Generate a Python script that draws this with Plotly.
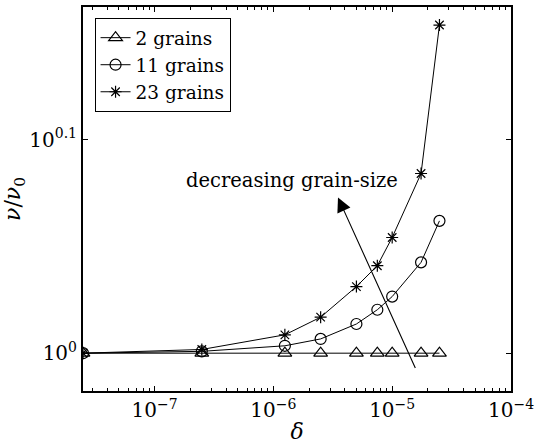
import math
import plotly.graph_objects as go

# ---- data ----
delta = [2.5e-8, 2.5e-7, 1.25e-6, 2.5e-6, 5e-6, 7.5e-6, 1e-5, 1.75e-5, 2.5e-5]
nu_2_grains = [1.0, 1.0, 1.0, 1.0, 1.0, 1.0, 1.0, 1.0, 1.0]
nu_11_grains = [1.0, 1.002, 1.008, 1.0155, 1.032, 1.048, 1.063, 1.103, 1.1535]
nu_23_grains = [1.0, 1.004, 1.020, 1.0396, 1.0745, 1.099, 1.133, 1.214, 1.425]
series_names = ["2 grains", "11 grains", "23 grains"]

x_ticks = [1e-7, 1e-6, 1e-5, 1e-4]
x_ticktext = ["10<sup>\u22127</sup>", "10<sup>\u22126</sup>", "10<sup>\u22125</sup>", "10<sup>\u22124</sup>"]
y_ticks = [1.0, 10 ** 0.1]
y_ticktext = ["10<sup>0</sup>", "10<sup>0.1</sup>"]

FONT = "DejaVu Serif"

fig = go.Figure()
symbols = ["triangle-up-open", "circle-open", "asterisk-open"]
sizes = [12, 11, 10]
for name, ys, sym, sz in zip(series_names, [nu_2_grains, nu_11_grains, nu_23_grains], symbols, sizes):
    fig.add_trace(go.Scatter(
        x=delta, y=ys, name=name, mode="lines+markers",
        line=dict(color="black", width=1),
        marker=dict(symbol=sym, size=sz, color="black", line=dict(color="black", width=1.2)),
    ))

minor_vals = []
for e in range(-8, -4):
    for m in range(2, 10):
        minor_vals.append(m * 10 ** e)

axis_common = dict(
    showline=True, linecolor="black", linewidth=2, mirror="ticks",
    ticks="inside", ticklen=5, tickcolor="black", tickwidth=1,
    showgrid=False, zeroline=False, automargin=False,
    tickfont=dict(family=FONT, size=20, color="black"),
)

fig.update_xaxes(
    type="log", range=[math.log10(2.5e-8), -4],
    tickvals=x_ticks, ticktext=x_ticktext,
    minor=dict(tickvals=minor_vals, ticks="inside", ticklen=3, tickcolor="black", tickwidth=1, showgrid=False),
    title=dict(text="<i>\u03b4</i>", font=dict(family=FONT, size=22, color="black"), standoff=2),
    **axis_common,
)
fig.update_yaxes(
    type="log", range=[math.log10(0.96), math.log10(1.453)],
    tickvals=y_ticks, ticktext=y_ticktext,
    title=dict(text="<i>\u03bd</i>/<i>\u03bd</i><sub>0</sub>", font=dict(family=FONT, size=22, color="black"), standoff=4),
    **axis_common,
)

# arrow
fig.add_annotation(
    x=math.log10(3.5e-6), y=math.log10(1.183), xref="x", yref="y",
    ax=78, ay=172, axref="pixel", ayref="pixel",
    showarrow=True, arrowhead=2, arrowsize=2.6, arrowwidth=1.1, arrowcolor="black", text="",
)
fig.add_annotation(
    x=-5.84, y=0.0808, xref="x", yref="y", showarrow=False,
    text="decreasing grain-size", font=dict(family=FONT, size=19.5, color="black"),
)

fig.update_layout(
    width=536, height=444,
    margin=dict(l=83, r=25, t=7, b=53),
    paper_bgcolor="white", plot_bgcolor="white",
    font=dict(family=FONT, color="black"),
    showlegend=True,
    legend=dict(
        x=0.027, y=0.971, xanchor="left", yanchor="top",
        bordercolor="black", borderwidth=1, bgcolor="white",
        font=dict(family=FONT, size=18.5, color="black"),
        tracegroupgap=0, itemwidth=30,
    ),
)

fig.write_html("out.html")
